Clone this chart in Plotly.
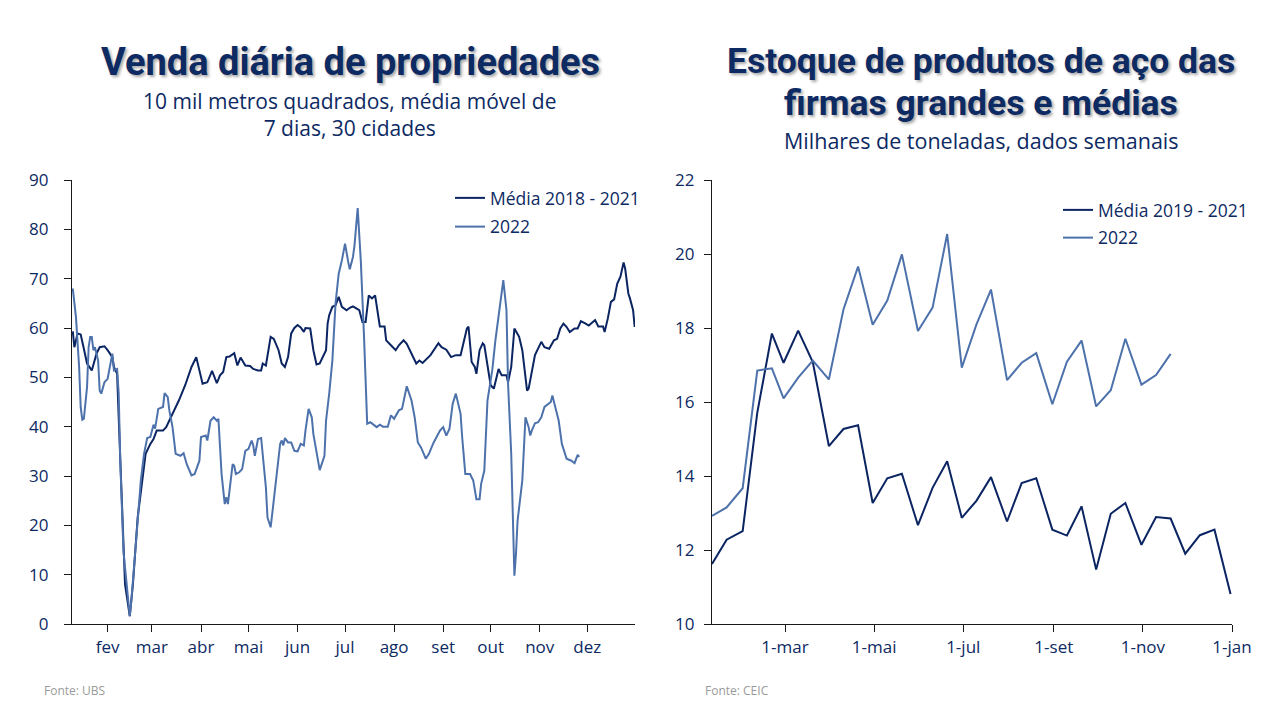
import plotly.graph_objects as go

# ---------------- Left chart: daily property sales (day of year) ----------------
media_1821_dia = [10, 11, 13, 15, 17, 19, 22, 25, 27, 30, 32, 35, 36, 38, 39, 41, 43, 46, 48, 51, 54, 56, 59, 61, 63,
                  67, 69, 73, 77, 81, 85, 88, 91, 92, 95, 98, 101, 103, 105, 107, 109, 112, 114, 116, 119, 122, 124,
                  127, 129, 130, 132, 133, 135, 137, 140, 142, 144, 146, 148, 150, 152, 154, 156, 157, 160, 162, 164,
                  166, 168, 170, 171, 172, 174, 176, 178, 180, 183, 185, 187, 191, 193, 195, 197, 199, 201, 202, 204,
                  207, 208, 211, 214, 216, 219, 221, 223, 225, 227, 229, 231, 236, 239, 241, 243, 246, 249, 252, 255,
                  257, 259, 260, 262, 264, 265, 267, 269, 270, 272, 274, 276, 278, 279, 281, 284, 285, 287, 289, 292,
                  294, 295, 297, 298, 300, 302, 306, 308, 311, 314, 316, 318, 320, 322, 324, 327, 329, 331, 334, 336,
                  340, 342, 345, 346, 348, 350, 352, 354, 356, 358, 359, 361, 362, 364, 365]
media_1821_val = [59.3, 56.1, 58.9, 58.7, 55.8, 52.8, 51.4, 54.8, 56.1, 56.3, 55.5, 54.1, 52.1, 50.7, 41.9, 25.0, 8.1,
                  1.6, 8.1, 21.6, 29.7, 34.5, 36.5, 37.5, 39.2, 39.2, 39.9, 42.6, 45.3, 48.4, 52.1, 54.1, 50.0, 48.7,
                  49.0, 51.3, 48.8, 50.4, 51.1, 54.1, 54.2, 54.9, 52.4, 54.0, 52.4, 52.3, 51.7, 51.4, 51.4, 52.8,
                  52.4, 54.5, 58.2, 57.8, 55.5, 52.8, 52.1, 54.1, 58.9, 60.0, 60.6, 60.1, 59.2, 60.0, 59.9, 55.5,
                  52.6, 52.8, 54.1, 55.5, 60.9, 62.6, 64.3, 64.6, 66.3, 64.3, 63.6, 64.1, 64.4, 63.6, 61.2, 61.2,
                  66.6, 66.0, 66.6, 64.3, 60.3, 60.3, 57.5, 56.5, 55.5, 56.5, 57.5, 56.8, 55.5, 54.1, 52.8, 53.4,
                  52.9, 54.5, 55.8, 56.9, 56.1, 55.6, 54.1, 54.5, 54.5, 57.2, 59.9, 60.3, 53.1, 52.1, 50.7, 55.5,
                  56.9, 56.5, 52.1, 48.4, 47.7, 50.0, 51.7, 50.4, 50.4, 49.0, 52.1, 59.9, 58.2, 55.5, 52.8, 47.3,
                  47.7, 51.1, 54.5, 57.2, 56.1, 55.8, 57.5, 57.8, 59.9, 60.9, 60.2, 59.2, 59.9, 59.9, 61.4, 60.9,
                  60.5, 61.6, 60.3, 60.3, 59.2, 61.9, 65.3, 65.8, 69.0, 70.4, 73.3, 72.0, 67.0, 66.0, 63.6, 60.2]

ano_2022_dia = [10, 12, 14, 15, 16, 17, 19, 20, 21, 22, 23, 24, 26, 27, 28, 30, 32, 35, 36, 38, 39, 40, 42, 45, 46,
                47, 49, 51, 53, 55, 57, 59, 61, 62, 64, 67, 68, 70, 71, 73, 75, 78, 80, 82, 85, 87, 90, 91, 94, 95,
                97, 99, 101, 102, 104, 106, 107, 108, 111, 112, 113, 115, 117, 119, 121, 123, 124, 125, 127, 129,
                130, 132, 133, 135, 136, 139, 141, 142, 143, 144, 146, 148, 150, 152, 154, 156, 157, 159, 161, 162,
                164, 166, 169, 170, 172, 174, 176, 178, 180, 182, 184, 185, 187, 188, 190, 192, 194, 196, 198, 202,
                204, 206, 209, 211, 213, 216, 218, 221, 224, 226, 228, 230, 233, 235, 238, 242, 244, 246, 248, 250,
                252, 255, 256, 258, 261, 263, 265, 267, 268, 270, 272, 275, 277, 279, 282, 284, 285, 287, 289, 290,
                291, 294, 296, 298, 299, 300, 302, 304, 306, 308, 310, 312, 313, 315, 317, 319, 322, 325, 327, 329,
                330]
ano_2022_val = [68.0, 62.2, 52.1, 43.9, 41.4, 41.6, 48.0, 56.1, 58.2, 58.2, 55.5, 56.1, 53.4, 47.3, 46.7, 49.0, 49.7,
                54.8, 51.4, 51.7, 46.7, 33.1, 14.8, 4.7, 1.6, 4.7, 12.8, 22.3, 29.1, 34.5, 37.7, 37.9, 40.4, 39.6,
                43.6, 44.0, 46.8, 46.0, 43.3, 39.9, 34.5, 34.1, 34.6, 32.4, 30.1, 30.4, 33.1, 37.9, 38.2, 37.2,
                41.2, 41.9, 41.2, 41.6, 30.4, 24.3, 25.7, 24.3, 32.4, 32.1, 30.4, 30.7, 31.4, 35.1, 35.5, 37.2,
                36.2, 34.1, 37.5, 37.7, 34.5, 27.7, 21.6, 19.6, 22.3, 31.1, 36.5, 37.2, 36.2, 37.7, 36.8, 36.8,
                35.1, 35.0, 36.5, 36.2, 39.2, 43.6, 41.9, 38.5, 34.5, 31.2, 34.1, 41.2, 46.7, 53.4, 65.0, 71.0,
                73.7, 77.1, 73.4, 71.9, 74.4, 76.8, 84.3, 73.4, 58.2, 40.6, 40.9, 39.9, 40.4, 40.0, 40.0, 42.3,
                41.6, 43.3, 43.6, 48.2, 45.3, 41.9, 36.8, 35.8, 33.5, 34.5, 36.8, 39.2, 39.9, 38.2, 39.6, 44.6,
                46.7, 42.6, 37.9, 30.4, 30.4, 29.1, 25.3, 25.3, 28.4, 31.1, 45.3, 51.4, 57.5, 62.2, 69.7, 63.6,
                48.7, 34.5, 9.8, 14.2, 20.9, 29.1, 41.9, 39.9, 38.2, 39.2, 40.7, 40.9, 41.9, 44.0, 44.6, 45.0,
                46.3, 44.0, 41.2, 36.5, 33.5, 33.1, 32.6, 34.3, 33.9]

meses_dia = [32, 60, 91, 121, 152, 182, 213, 244, 274, 305, 335]
meses_txt = ["fev", "mar", "abr", "mai", "jun", "jul", "ago", "set", "out", "nov", "dez"]

# ---------------- Right chart: steel inventory (10-day periods) ----------------
datas_aco = ["2022-01-10", "2022-01-20", "2022-01-31", "2022-02-10", "2022-02-20", "2022-02-28",
             "2022-03-10", "2022-03-20", "2022-03-31", "2022-04-10", "2022-04-20", "2022-04-30",
             "2022-05-10", "2022-05-20", "2022-05-31", "2022-06-10", "2022-06-20", "2022-06-30",
             "2022-07-10", "2022-07-20", "2022-07-31", "2022-08-10", "2022-08-20", "2022-08-31",
             "2022-09-10", "2022-09-20", "2022-09-30", "2022-10-10", "2022-10-20", "2022-10-31",
             "2022-11-10", "2022-11-20", "2022-11-30", "2022-12-10", "2022-12-20", "2022-12-31"]
estoque_media_1921 = [11.62, 12.28, 12.51, 15.71, 17.85, 17.06, 17.93, 17.08, 14.81, 15.27, 15.37, 13.27,
                      13.94, 14.06, 12.67, 13.68, 14.40, 12.87, 13.33, 13.97, 12.77, 13.81, 13.94, 12.55,
                      12.39, 13.18, 11.47, 12.98, 13.27, 12.14, 12.89, 12.85, 11.90, 12.40, 12.55, 10.81]
estoque_2022 = [12.92, 13.15, 13.67, 16.85, 16.91, 16.10, 16.66, 17.12, 16.61, 18.50, 19.66, 18.09,
                18.74, 19.99, 17.92, 18.55, 20.54, 16.93, 18.09, 19.04, 16.59, 17.06, 17.32, 15.94,
                17.09, 17.66, 15.88, 16.32, 17.71, 16.47, 16.73, 17.30]
ticks_aco = ["2022-03-01", "2022-05-01", "2022-07-01", "2022-09-01", "2022-11-01", "2023-01-01"]
ticks_aco_txt = ["1-mar", "1-mai", "1-jul", "1-set", "1-nov", "1-jan"]

# ---------------- Styling ----------------
NAVY = "#0b2462"
LIGHT = "#4d72ab"
TXT = "#0d2a63"
FONT = "Open Sans"
TITLE_FONT = "Roboto, sans-serif"
SHADOW = "2px 2px 3px rgba(0,0,0,0.35)"

fig = go.Figure()
fig.add_trace(go.Scatter(x=media_1821_dia, y=media_1821_val, mode="lines", name="Média 2018 - 2021",
                         line=dict(color=NAVY, width=2), xaxis="x", yaxis="y", legend="legend", legendgroup="a"))
fig.add_trace(go.Scatter(x=ano_2022_dia, y=ano_2022_val, mode="lines", name="2022",
                         line=dict(color=LIGHT, width=2), xaxis="x", yaxis="y", legend="legend", legendgroup="b"))
fig.add_trace(go.Scatter(x=datas_aco, y=estoque_media_1921, mode="lines", name="Média 2019 - 2021",
                         line=dict(color=NAVY, width=2), xaxis="x2", yaxis="y2", legend="legend2", legendgroup="c"))
fig.add_trace(go.Scatter(x=datas_aco[:len(estoque_2022)], y=estoque_2022, mode="lines", name="2022",
                         line=dict(color=LIGHT, width=2), xaxis="x2", yaxis="y2", legend="legend2", legendgroup="d"))

W, H = 1280, 720
def px(x):
    return x / W
def py(y):
    return 1 - y / H

axis_common = dict(showgrid=False, zeroline=False, showline=True, linecolor="#1a1a1a", linewidth=1.3,
                   ticks="outside", tickcolor="#1a1a1a", ticklen=7, tickwidth=1.3, automargin=False,
                   tickfont=dict(family=FONT, size=17, color=TXT))

fig.update_layout(
    width=W, height=H, margin=dict(l=0, r=0, t=0, b=0, autoexpand=False),
    paper_bgcolor="white", plot_bgcolor="white",
    xaxis=dict(domain=[px(72), px(635)], range=[9.5, 365.2], tickmode="array",
               tickvals=meses_dia, ticktext=meses_txt, anchor="y", **axis_common),
    yaxis=dict(domain=[py(624), py(180)], range=[0, 90], tickmode="array",
               tickvals=list(range(0, 91, 10)), anchor="x", ticklabelstandoff=12, **axis_common),
    xaxis2=dict(domain=[px(712), px(1232)], type="date", range=["2022-01-10", "2023-01-01"],
                tickmode="array", tickvals=ticks_aco, ticktext=ticks_aco_txt, anchor="y2", **axis_common),
    yaxis2=dict(domain=[py(624), py(180)], range=[10, 22], tickmode="array",
                tickvals=list(range(10, 23, 2)), anchor="x2", ticklabelstandoff=6, **axis_common),
    legend=dict(x=px(450), y=py(180), xanchor="left", yanchor="top", bgcolor="rgba(0,0,0,0)",
                font=dict(family=FONT, size=17.5, color=TXT), tracegroupgap=3),
    legend2=dict(x=px(1058), y=py(192), xanchor="left", yanchor="top", bgcolor="rgba(0,0,0,0)",
                 font=dict(family=FONT, size=17.5, color=TXT), tracegroupgap=2),
    showlegend=True,
)

annotations = [
    dict(text="<b>Venda diária de propriedades</b>", x=px(350), y=py(62), font=dict(family=TITLE_FONT, size=38, color=TXT, shadow=SHADOW)),
    dict(text="10 mil metros quadrados, média móvel de<br>7 dias, 30 cidades", x=px(350), y=py(115),
         font=dict(family=FONT, size=21, color=TXT)),
    dict(text="<b>Estoque de produtos de aço das</b>", x=px(981), y=py(61), font=dict(family=TITLE_FONT, size=35.5, color=TXT, shadow=SHADOW)),
    dict(text="<b>firmas grandes e médias</b>", x=px(981), y=py(103), font=dict(family=TITLE_FONT, size=35.5, color=TXT, shadow=SHADOW)),
    dict(text="Milhares de toneladas, dados semanais", x=px(981), y=py(141), font=dict(family=FONT, size=21.5, color=TXT)),
    dict(text="Fonte: UBS", x=px(42), y=py(690), xanchor="left", font=dict(family=FONT, size=12, color="#9a9a9a")),
    dict(text="Fonte: CEIC", x=px(703), y=py(690), xanchor="left", font=dict(family=FONT, size=12, color="#9a9a9a")),
]
for a in annotations:
    a.setdefault("xanchor", "center")
    a.update(xref="paper", yref="paper", yanchor="middle", showarrow=False)
fig.update_layout(annotations=annotations)

fig.write_html("out.html")
